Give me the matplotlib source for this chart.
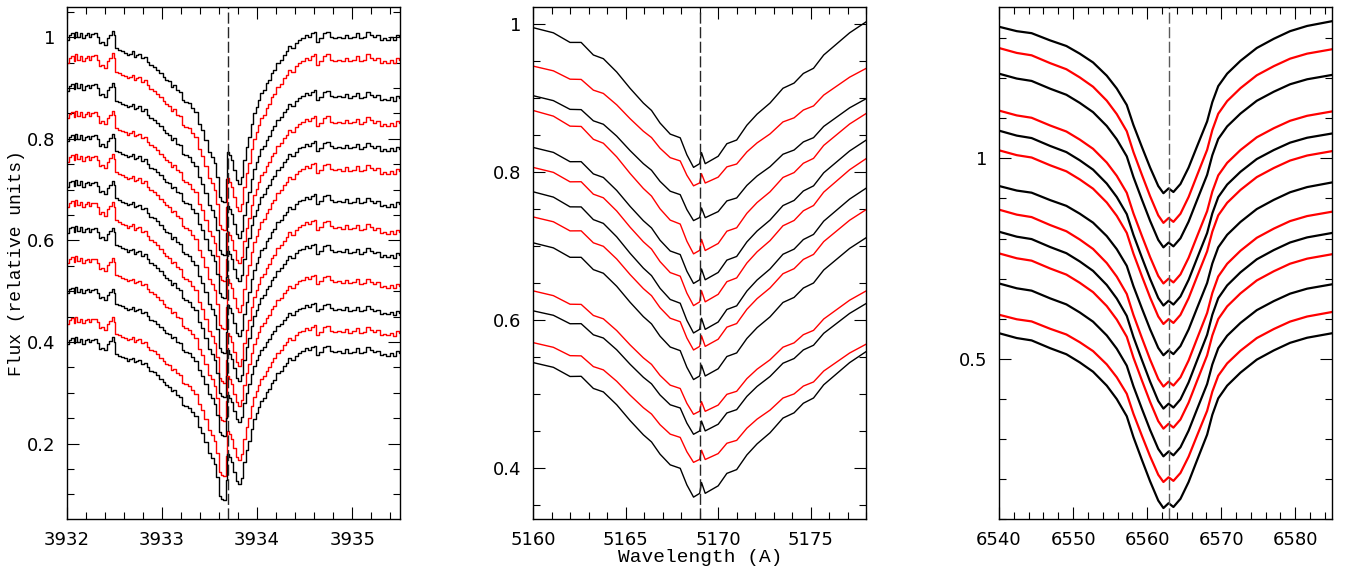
import numpy as np
import matplotlib
matplotlib.use('Agg')
import matplotlib.pyplot as plt
from matplotlib.ticker import MultipleLocator, FuncFormatter

# --- Ca II K (left panel): top spectrum ---
ca_wave = [3932.010, 3932.035, 3932.063, 3932.080, 3932.098, 3932.126, 3932.150, 3932.175,
           3932.203, 3932.220, 3932.245, 3932.273, 3932.301, 3932.325, 3932.343, 3932.378,
           3932.406, 3932.430, 3932.465, 3932.483, 3932.500, 3932.518, 3932.553, 3932.588,
           3932.623, 3932.640, 3932.675, 3932.693, 3932.710, 3932.735, 3932.763, 3932.798,
           3932.833, 3932.850, 3932.885, 3932.920, 3932.955, 3932.990, 3933.025, 3933.043,
           3933.078, 3933.106, 3933.130, 3933.165, 3933.200, 3933.218, 3933.253, 3933.288,
           3933.316, 3933.358, 3933.393, 3933.428, 3933.463, 3933.498, 3933.533, 3933.561,
           3933.585, 3933.605, 3933.630, 3933.660, 3933.680, 3933.694, 3933.715, 3933.736,
           3933.764, 3933.792, 3933.816, 3933.841, 3933.869, 3933.897, 3933.921, 3933.946,
           3933.974, 3934.002, 3934.026, 3934.044, 3934.079, 3934.107, 3934.131, 3934.156,
           3934.184, 3934.219, 3934.254, 3934.289, 3934.317, 3934.341, 3934.376, 3934.411,
           3934.446, 3934.481, 3934.516, 3934.551, 3934.586, 3934.611, 3934.632, 3934.667,
           3934.709, 3934.744, 3934.779, 3934.814, 3934.866, 3934.901, 3934.936, 3934.971,
           3935.017, 3935.058, 3935.087, 3935.128, 3935.164, 3935.199, 3935.234, 3935.269,
           3935.304, 3935.339, 3935.374, 3935.409, 3935.444, 3935.479, 3935.500]
ca_flux = [0.995, 1.005, 1.008, 0.998, 1.011, 1.001, 1.008, 0.998,
           1.005, 1.008, 1.001, 1.007, 1.009, 1.001, 0.988, 0.991,
           0.985, 0.998, 1.005, 1.013, 1.004, 0.978, 0.975, 0.972,
           0.970, 0.965, 0.968, 0.972, 0.962, 0.965, 0.968, 0.959,
           0.962, 0.952, 0.945, 0.942, 0.936, 0.929, 0.922, 0.916,
           0.913, 0.903, 0.906, 0.896, 0.893, 0.876, 0.873, 0.870,
           0.860, 0.853, 0.830, 0.817, 0.798, 0.775, 0.765, 0.752,
           0.725, 0.685, 0.678, 0.676, 0.720, 0.775, 0.768, 0.758,
           0.738, 0.719, 0.712, 0.725, 0.758, 0.784, 0.804, 0.830,
           0.850, 0.863, 0.876, 0.890, 0.896, 0.909, 0.916, 0.929,
           0.936, 0.949, 0.955, 0.965, 0.972, 0.982, 0.978, 0.988,
           0.995, 0.998, 1.005, 1.001, 1.008, 1.011, 0.991, 0.998,
           1.008, 1.011, 1.001, 0.998, 1.001, 0.998, 1.005, 0.998,
           1.001, 1.008, 0.998, 1.001, 1.011, 1.005, 1.001, 1.005,
           0.995, 0.998, 0.995, 1.001, 0.995, 1.005, 1.001]
ca_left = [1.00, 0.955, 0.90, 0.845, 0.80, 0.76, 0.71, 0.67, 0.62, 0.56, 0.50, 0.44, 0.40]
ca_right = [1.00, 0.955, 0.88, 0.83, 0.78, 0.735, 0.67, 0.616, 0.57, 0.51, 0.457, 0.417, 0.377]
ca_core = [0.678, 0.623, 0.573, 0.522, 0.489, 0.427, 0.380, 0.322, 0.293, 0.246, 0.217, 0.138, 0.090]

# --- Mg / Fe region (middle panel) ---
mg_wave = [5160.0, 5161.1, 5162.0, 5162.6, 5163.26, 5163.8, 5164.52, 5165.24,
           5165.96, 5166.4, 5166.86, 5167.41, 5167.95, 5168.31, 5168.67, 5169.0,
           5169.1, 5169.3, 5170.0, 5170.47, 5171.0, 5171.55, 5172.1, 5172.8,
           5173.5, 5174.1, 5174.6, 5175.15, 5175.7, 5176.4, 5177.1, 5178.0]
mg_flux = [0.995, 0.988, 0.975, 0.975, 0.958, 0.953, 0.935, 0.913,
           0.893, 0.883, 0.866, 0.851, 0.846, 0.823, 0.806, 0.811,
           0.826, 0.811, 0.821, 0.838, 0.843, 0.863, 0.878, 0.893,
           0.913, 0.920, 0.933, 0.940, 0.958, 0.973, 0.988, 1.003]
mg_left = [0.995, 0.943, 0.903, 0.883, 0.833, 0.806, 0.773, 0.739, 0.704, 0.639, 0.612, 0.569, 0.542]
mg_right = [1.003, 0.940, 0.899, 0.879, 0.843, 0.818, 0.778, 0.749, 0.711, 0.639, 0.622, 0.567, 0.557]
mg_core = [0.806, 0.781, 0.734, 0.689, 0.649, 0.619, 0.582, 0.559, 0.519, 0.472, 0.445, 0.407, 0.360]

# --- H alpha (right panel) ---
ha_wave = [6540.0, 6542.4, 6544.4, 6546.9, 6549.1, 6550.9, 6552.7, 6554.55,
           6555.9, 6557.25, 6558.15, 6559.3, 6560.4, 6561.5, 6562.2, 6562.9,
           6563.55, 6564.5, 6565.6, 6566.7, 6568.1, 6568.8, 6569.6, 6570.8,
           6572.6, 6574.8, 6577.1, 6579.3, 6581.6, 6585.0]
ha_flux = [1.328, 1.317, 1.312, 1.294, 1.280, 1.261, 1.239, 1.206,
           1.174, 1.133, 1.083, 1.028, 0.977, 0.931, 0.913, 0.925,
           0.916, 0.936, 0.977, 1.028, 1.092, 1.140, 1.180, 1.211,
           1.243, 1.275, 1.298, 1.317, 1.330, 1.342]
ha_left = [1.328, 1.275, 1.211, 1.119, 1.069, 1.020, 0.931, 0.872, 0.817, 0.763, 0.688, 0.610, 0.564]
ha_right = [1.342, 1.272, 1.208, 1.117, 1.062, 1.018, 0.940, 0.867, 0.814, 0.761, 0.686, 0.617, 0.564]
ha_core = [0.913, 0.839, 0.778, 0.688, 0.633, 0.587, 0.509, 0.431, 0.376, 0.326, 0.257, 0.193, 0.128]

colors = ['black', 'red']

W, H = 1349, 577
fig = plt.figure(figsize=(W / 100, H / 100), dpi=100)


def panel(left_px, wave, flux, lefts, rights, cores, wcore, xlim, ylim,
          xmaj, xmin, ymaj, ymin, vline, steps=False, lw=1.0, vcol='0.15'):
    ax = fig.add_axes([left_px / W, 1 - 519.3 / H, 333.3 / W, 512 / H])
    w = np.array(wave)
    t = np.array(flux)
    frac = (w - w[0]) / (w[-1] - w[0])
    fcore = (wcore - w[0]) / (w[-1] - w[0])
    c0 = lefts[0] + (rights[0] - lefts[0]) * frac
    d0 = lefts[0] + (rights[0] - lefts[0]) * fcore - cores[0]
    for i in range(len(lefts)):
        ci = lefts[i] + (rights[i] - lefts[i]) * frac
        di = lefts[i] + (rights[i] - lefts[i]) * fcore - cores[i]
        y = ci + (t - c0) * di / d0
        ax.plot(w, y, color=colors[i % 2], lw=lw,
                drawstyle='steps-mid' if steps else 'default')
    ax.axvline(vline, color=vcol, lw=1.0, dashes=(8, 2.5))
    ax.set_xlim(*xlim)
    ax.set_ylim(*ylim)
    ax.xaxis.set_major_locator(MultipleLocator(xmaj))
    ax.xaxis.set_minor_locator(MultipleLocator(xmin))
    ax.yaxis.set_major_locator(MultipleLocator(ymaj))
    ax.yaxis.set_minor_locator(MultipleLocator(ymin))
    ax.yaxis.set_major_formatter(FuncFormatter(lambda v, p: '%g' % round(v, 3)))
    ax.xaxis.set_major_formatter(FuncFormatter(lambda v, p: '%g' % round(v, 3)))
    ax.tick_params(which='both', direction='in', top=True, right=True, width=0.8)
    ax.tick_params(which='major', length=8.5, pad=8.5, labelsize=13)
    ax.tick_params(which='minor', length=5)
    for s in ax.spines.values():
        s.set_linewidth(1.0)
    return ax


panel(66.7, ca_wave, ca_flux, ca_left, ca_right, ca_core, 3933.66,
      (3932, 3935.5), (0.051, 1.059), 1, 0.2, 0.2, 0.05, 3933.69, steps=True)
panel(533, mg_wave, mg_flux, mg_left, mg_right, mg_core, 5168.67,
      (5160, 5178), (0.330, 1.0225), 5, 1, 0.2, 0.05, 5169.0)
panel(999, ha_wave, ha_flux, ha_left, ha_right, ha_core, 6562.2,
      (6540, 6585), (0.10, 1.3765), 10, 2, 0.5, 0.1, 6562.9, lw=1.6, vcol='0.35')

fig.text(17 / W, 1 - 263 / H, 'Flux (relative units)', rotation=90,
         ha='center', va='center', family='Liberation Mono', size=13)
fig.text(700 / W, 1 - 558 / H, 'Wavelength (A)',
         ha='center', va='center', family='Liberation Mono', size=14)

fig.savefig('out.png', dpi=100)
